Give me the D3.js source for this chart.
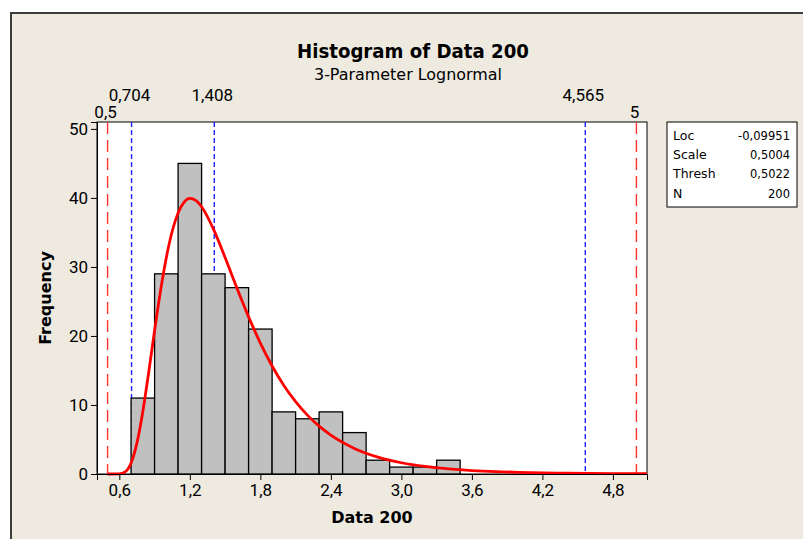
<!DOCTYPE html>
<html lang="en">
<head>
<meta charset="UTF-8">
<script src="https://d3js.org/d3.v7.min.js"></script>
<style>
  body { margin: 0; background: #fff; }
  svg { display: block; font-family: Tahoma, "DejaVu Sans", Verdana, sans-serif; }
</style>
<title>Histogram of Data 200</title>
</head>
<body>
<div id="chart"></div>
<script>
// histogram bins (lower edge, width 0.2) and counts
const binStarts = [0.7, 0.9, 1.1, 1.3, 1.5, 1.7, 1.9, 2.1, 2.3, 2.5, 2.7, 2.9, 3.1, 3.3];
const counts    = [11, 29, 45, 29, 27, 21, 9, 8, 9, 6, 2, 1, 1, 2];
const binWidth = 0.2;

// fitted lognormal curve (frequency scale)
const curveX = [0.50, 0.60, 0.65, 0.70, 0.75, 0.80, 0.85, 0.90, 0.95, 1.00, 1.05, 1.10, 1.15, 1.20, 1.25,
                1.30, 1.40, 1.50, 1.60, 1.70, 1.80, 1.90, 2.00, 2.10, 2.20, 2.30, 2.40, 2.60, 2.80,
                3.00, 3.20, 3.40, 3.60, 3.80, 4.00, 4.20, 4.40, 4.60, 4.80, 5.09];
const curveY = [0, 0.02, 0.31, 1.59, 4.51, 9.07, 14.75, 20.78, 26.48, 31.37, 35.17, 37.82, 39.36, 39.92, 39.65,
                38.72, 35.52, 31.36, 26.97, 22.77, 18.97, 15.65, 12.83, 10.48, 8.53, 6.93, 5.63, 3.71, 2.45,
                1.63, 1.09, 0.74, 0.50, 0.34, 0.24, 0.17, 0.12, 0.08, 0.06, 0.04];

// reference lines
const refValues = [0.5, 0.704, 1.408, 4.565, 5];
const refLabels = ["0,5", "0,704", "1,408", "4,565", "5"];
const refKind   = ["spec", "pct", "pct", "pct", "spec"];

const xTicks = [0.6, 1.2, 1.8, 2.4, 3.0, 3.6, 4.2, 4.8];
const yTicks = [0, 10, 20, 30, 40, 50];

const statNames  = ["Loc", "Scale", "Thresh", "N"];
const statValues = ["-0,09951", "0,5004", "0,5022", "200"];

const w = 803, h = 539;
const pLeft = 97, pRight = 647, pTop = 122, pBottom = 474;
const tickFont = "Roboto, 'DejaVu Sans', sans-serif";

const svg = d3.select("#chart").append("svg")
    .attr("width", w)
    .attr("height", h);

// frame background
svg.append("rect")
    .attr("x", 11).attr("y", 13)
    .attr("width", 900).attr("height", 600)
    .attr("fill", "#eeeae0")
    .attr("stroke", "#3c3c3c")
    .attr("stroke-width", 2);

const xScale = d3.scaleLinear().domain([0.41, 5.09]).range([pLeft, pRight]);
const yScale = d3.scaleLinear().domain([0, 51]).range([pBottom, pTop]);

const fmt = d3.formatLocale({decimal: ",", thousands: ".", grouping: [3], currency: ["", ""]}).format(".1f");

// plot area
svg.append("rect")
    .attr("x", pLeft).attr("y", pTop)
    .attr("width", pRight - pLeft).attr("height", pBottom - pTop)
    .attr("fill", "#fff")
    .attr("stroke", "#000")
    .attr("stroke-width", 1);

// reference lines (behind the bars)
svg.append("g").selectAll("line")
    .data(refValues)
    .enter().append("line")
    .attr("x1", d => xScale(d)).attr("x2", d => xScale(d))
    .attr("y1", pTop).attr("y2", pBottom)
    .attr("stroke", (d, i) => refKind[i] == "spec" ? "#ff3030" : "#2020ff")
    .attr("stroke-width", 1.4)
    .attr("stroke-dasharray", (d, i) => refKind[i] == "spec" ? "12,6" : "5,3");

svg.append("g").selectAll("text")
    .data(refValues)
    .enter().append("text")
    .text((d, i) => refLabels[i])
    .attr("x", d => xScale(d) - 2)
    .attr("y", (d, i) => refKind[i] == "spec" ? 118 : 101)
    .attr("text-anchor", "middle")
    .attr("font-family", tickFont)
    .attr("font-size", "17px")
    .attr("fill", "#000");

// bars
svg.append("g").selectAll("rect")
    .data(counts)
    .enter().append("rect")
    .attr("x", (d, i) => xScale(binStarts[i]))
    .attr("y", d => yScale(d))
    .attr("width", (d, i) => xScale(binStarts[i] + binWidth) - xScale(binStarts[i]))
    .attr("height", d => yScale(0) - yScale(d))
    .attr("fill", "#c0c0c0")
    .attr("stroke", "#000")
    .attr("stroke-width", 1.3);

// fitted curve
const line = d3.line()
    .x((d, i) => xScale(curveX[i]))
    .y(d => yScale(d))
    .curve(d3.curveMonotoneX);

svg.append("path")
    .datum(curveY)
    .attr("d", line)
    .attr("fill", "none")
    .attr("stroke", "#ff0000")
    .attr("stroke-width", 2.8);

// axes
const xAxis = d3.axisBottom(xScale).tickValues(xTicks).tickFormat(fmt).tickSize(6).tickPadding(4);
const yAxis = d3.axisLeft(yScale).tickValues(yTicks).tickSize(6).tickPadding(3);

const gx = svg.append("g")
    .attr("transform", "translate(0," + pBottom + ")")
    .call(xAxis);
const gy = svg.append("g")
    .attr("transform", "translate(" + pLeft + ",0)")
    .call(yAxis);

[gx, gy].forEach(g => {
    g.select(".domain").attr("stroke", "#000");
    g.selectAll(".tick line").attr("stroke", "#000");
    g.selectAll("text")
        .attr("font-family", tickFont)
        .attr("font-size", "17px")
        .attr("fill", "#000");
});

// titles
svg.append("text")
    .text("Histogram of Data 200")
    .attr("x", 413).attr("y", 58)
    .attr("text-anchor", "middle")
    .attr("font-size", "19.5px")
    .attr("font-weight", "bold")
    .attr("textLength", 232)
    .attr("lengthAdjust", "spacingAndGlyphs");

svg.append("text")
    .text("3-Parameter Lognormal")
    .attr("x", 408).attr("y", 80)
    .attr("text-anchor", "middle")
    .attr("font-size", "15.5px")
    .attr("textLength", 188)
    .attr("lengthAdjust", "spacingAndGlyphs");

svg.append("text")
    .text("Data 200")
    .attr("x", (pLeft + pRight) / 2).attr("y", 523)
    .attr("text-anchor", "middle")
    .attr("font-size", "16px")
    .attr("font-weight", "bold");

svg.append("text")
    .text("Frequency")
    .attr("transform", "translate(51," + (pTop + pBottom) / 2 + ") rotate(-90)")
    .attr("text-anchor", "middle")
    .attr("font-size", "16px")
    .attr("font-weight", "bold");

// stats box
const box = svg.append("g");
box.append("rect")
    .attr("x", 667).attr("y", 122)
    .attr("width", 130).attr("height", 85)
    .attr("fill", "#fff")
    .attr("stroke", "#000")
    .attr("stroke-width", 1);

box.selectAll(".sname")
    .data(statNames)
    .enter().append("text")
    .attr("class", "sname")
    .text(d => d)
    .attr("x", 673)
    .attr("y", (d, i) => 140 + i * 19.2)
    .attr("font-size", "12.5px");

box.selectAll(".sval")
    .data(statValues)
    .enter().append("text")
    .attr("class", "sval")
    .text(d => d)
    .attr("x", 790)
    .attr("y", (d, i) => 140 + i * 19.2)
    .attr("text-anchor", "end")
    .attr("font-size", "12.5px")
    .attr("textLength", (d, i) => [52, 40, 40, 22][i])
    .attr("lengthAdjust", "spacingAndGlyphs");
</script>
</body>
</html>
